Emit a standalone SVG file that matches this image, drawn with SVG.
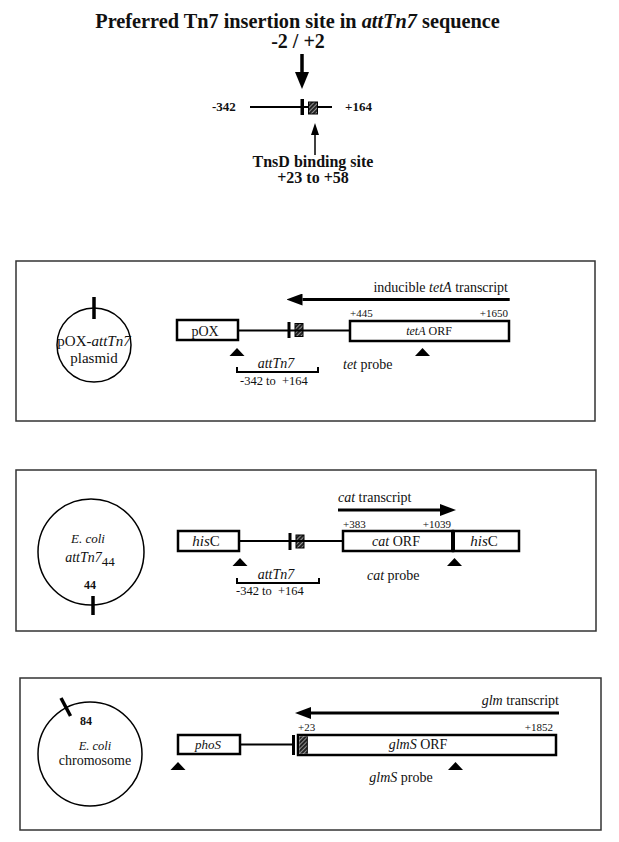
<svg xmlns="http://www.w3.org/2000/svg" width="619" height="842" viewBox="0 0 619 842">
<style>
text{font-family:"Liberation Serif","Times New Roman",serif;fill:#111}
.b{font-weight:bold}
.i{font-style:italic}
.panel{fill:none;stroke:#333;stroke-width:1.5}
.box{fill:#fff;stroke:#000;stroke-width:2.5}
.ln{stroke:#000;stroke-width:2;fill:none}
.circ{fill:#fff;stroke:#000;stroke-width:1.5}
.tick{stroke:#000;stroke-width:3.5}
.hat{fill:url(#hatch);stroke:#000;stroke-width:1}
.tx{stroke:#000;stroke-width:3;fill:none;marker-end:url(#txHead)}
.sm{font-size:11px}
</style>
<defs>
<pattern id="hatch" patternUnits="userSpaceOnUse" width="3" height="3" patternTransform="rotate(45)">
<rect width="3" height="3" fill="#222"/>
<line x1="0" y1="0" x2="0" y2="3" stroke="#fff" stroke-width="1"/>
</pattern>
<marker id="txHead" markerUnits="userSpaceOnUse" markerWidth="16" markerHeight="12" refX="0" refY="6" orient="auto">
<path d="M0,0 L16,6 L0,12 z" fill="#000"/>
</marker>
<marker id="bigHead" markerUnits="userSpaceOnUse" markerWidth="17" markerHeight="14" refX="0" refY="7" orient="auto">
<path d="M0,0 L17,7 L0,14 z" fill="#000"/>
</marker>
<marker id="smallHead" markerUnits="userSpaceOnUse" markerWidth="12" markerHeight="8" refX="0" refY="4" orient="auto">
<path d="M0,0 L12,4 L0,8 z" fill="#000"/>
</marker>
<path id="tri" d="M-7.5,8 L0,0 L7.5,8 z" fill="#000"/>
</defs>

<!-- top: attTn7 site -->
<g id="title">
<text class="b" x="297.5" y="28" font-size="20.3" text-anchor="middle">Preferred Tn7 insertion site in <tspan class="i">attTn7</tspan> sequence</text>
<text class="b" x="298" y="48" font-size="20" text-anchor="middle">-2 / +2</text>
</g>
<g id="site">
<line class="ln" x1="250" y1="107" x2="332" y2="107"/>
<rect x="300.5" y="99" width="3.5" height="16" fill="#000"/>
<rect class="hat" x="308.5" y="102" width="9" height="12"/>
<text class="b" x="212" y="111" font-size="13">-342</text>
<text class="b" x="345" y="111" font-size="13">+164</text>
</g>
<g id="tnsd-label">
<text class="b" x="313" y="167" font-size="16" text-anchor="middle">TnsD binding site</text>
<text class="b" x="313" y="183" font-size="16" text-anchor="middle">+23 to +58</text>
</g>

<!-- panels -->
<rect class="panel" x="16" y="261" width="579" height="160"/>
<rect class="panel" x="16" y="470" width="580" height="161"/>
<rect class="panel" x="20" y="678" width="581" height="152"/>

<!-- panel 1 -->
<g id="plasmid">
<circle class="circ" cx="94" cy="345" r="37"/>
<line class="tick" x1="94" y1="297" x2="94" y2="319"/>
<text x="94" y="346" font-size="15" text-anchor="middle">pOX-<tspan class="i">attTn7</tspan></text>
<text x="94" y="363" font-size="15" text-anchor="middle">plasmid</text>
</g>
<g id="pOX">
<rect class="box" x="177" y="320" width="61" height="20"/>
<text x="205" y="336" font-size="14" text-anchor="middle">pOX</text>
</g>
<g id="att1">
<rect x="287.5" y="322" width="3" height="16" fill="#000"/>
<rect class="hat" x="295" y="323.5" width="8" height="13"/>
<text class="i" x="276" y="368" font-size="14" text-anchor="middle">attTn7</text>
<path class="ln" stroke-width="1.5" d="M237,367 V372 H318 V367"/>
<text x="240" y="385" font-size="12.5">-342 to&#160; +164</text>
</g>
<g id="tetA">
<rect class="box" x="350" y="321" width="159" height="20"/>
<text x="429" y="335" font-size="12" text-anchor="middle"><tspan class="i">tetA</tspan> ORF</text>
<text class="sm" x="350" y="317">+445</text>
<text class="sm" x="508" y="317" text-anchor="end">+1650</text>
<text x="343" y="369" font-size="14"><tspan class="i">tet</tspan> probe</text>
</g>
<g id="tetA-transcript">
<text x="508" y="292" font-size="14" text-anchor="end">inducible <tspan class="i">tetA</tspan> transcript</text>
</g>

<!-- panel 2 -->
<g id="ecoli44">
<circle class="circ" cx="91" cy="552" r="53"/>
<line class="tick" x1="93" y1="596" x2="93" y2="615"/>
<text class="i" x="88" y="543" font-size="13" text-anchor="middle">E. coli</text>
<text x="90" y="562" text-anchor="middle"><tspan class="i" font-size="14">attTn7</tspan><tspan font-size="13" dy="4">44</tspan></text>
<text class="b" x="90" y="589" font-size="12" text-anchor="middle">44</text>
</g>
<g id="hisC1">
<rect class="box" x="178" y="531" width="61" height="20"/>
<text x="206" y="546" font-size="15" text-anchor="middle"><tspan class="i">his</tspan>C</text>
</g>
<g id="att2">
<rect x="288.5" y="533" width="3" height="17" fill="#000"/>
<rect class="hat" x="296" y="535" width="8" height="13"/>
<text class="i" x="276" y="579" font-size="14" text-anchor="middle">attTn7</text>
<path class="ln" stroke-width="1.5" d="M237,578 V583 H319 V578"/>
<text x="236" y="595" font-size="12.5">-342 to&#160; +164</text>
</g>
<g id="cat">
<rect class="box" x="343" y="531" width="110" height="20"/>
<text x="396" y="546" font-size="14" text-anchor="middle"><tspan class="i">cat</tspan> ORF</text>
<text class="sm" x="343" y="528">+383</text>
<text class="sm" x="451" y="528" text-anchor="end">+1039</text>
<text x="367" y="580" font-size="14"><tspan class="i">cat</tspan> probe</text>
<text x="338" y="502" font-size="14"><tspan class="i">cat</tspan> transcript</text>
</g>
<g id="hisC2">
<rect class="box" x="453" y="531" width="66" height="20"/>
<line x1="453" y1="530" x2="453" y2="552" stroke="#000" stroke-width="4"/>
<text x="484" y="546" font-size="15" text-anchor="middle"><tspan class="i">his</tspan>C</text>
</g>

<!-- panel 3 -->
<g id="chromosome">
<circle class="circ" cx="90" cy="754" r="52"/>
<line class="tick" x1="61" y1="698" x2="70.5" y2="716"/>
<text class="b" x="80" y="725" font-size="12">84</text>
<text class="i" x="95" y="750" font-size="12.5" text-anchor="middle">E. coli</text>
<text x="95" y="765" font-size="14" text-anchor="middle">chromosome</text>
</g>
<g id="phoS">
<rect class="box" x="178" y="735" width="62" height="19"/>
<text class="i" x="208" y="749" font-size="13" text-anchor="middle">phoS</text>
</g>
<g id="glmS">
<rect class="box" x="298" y="735" width="258" height="20"/>
<rect x="299.3" y="736.3" width="8" height="17.4" fill="url(#hatch)"/>
<line x1="307.3" y1="736.3" x2="307.3" y2="753.7" stroke="#000" stroke-width="1"/>
<rect x="292" y="735" width="3" height="20" fill="#000"/>
<text x="418" y="749" font-size="14" text-anchor="middle"><tspan class="i">glmS</tspan> ORF</text>
<text class="sm" x="298" y="731">+23</text>
<text class="sm" x="553" y="731" text-anchor="end">+1852</text>
<text x="401" y="782" font-size="14" text-anchor="middle"><tspan class="i">glmS</tspan> probe</text>
<text x="559" y="705" font-size="14" text-anchor="end"><tspan class="i">glm</tspan> transcript</text>
</g>

<!-- connectors -->
<g id="connectors">
<line x1="302" y1="54" x2="302" y2="72" stroke="#000" stroke-width="3.5" marker-end="url(#bigHead)"/>
<line x1="315" y1="155" x2="315" y2="135" stroke="#000" stroke-width="1.5" marker-end="url(#smallHead)"/>
<line class="ln" x1="238" y1="330.5" x2="350" y2="330.5"/>
<line class="tx" x1="509.7" y1="299.5" x2="302.5" y2="299.5"/>
<line class="ln" x1="239" y1="541" x2="343" y2="541"/>
<line class="tx" x1="338" y1="510" x2="440" y2="510"/>
<line class="ln" x1="240" y1="744.5" x2="292" y2="744.5"/>
<line class="tx" x1="559" y1="713" x2="311" y2="713"/>
<use href="#tri" x="237" y="348"/>
<use href="#tri" x="422.5" y="348"/>
<use href="#tri" x="240" y="558"/>
<use href="#tri" x="454.5" y="558"/>
<use href="#tri" x="178" y="762"/>
<use href="#tri" x="455.5" y="762"/>
</g>
</svg>
